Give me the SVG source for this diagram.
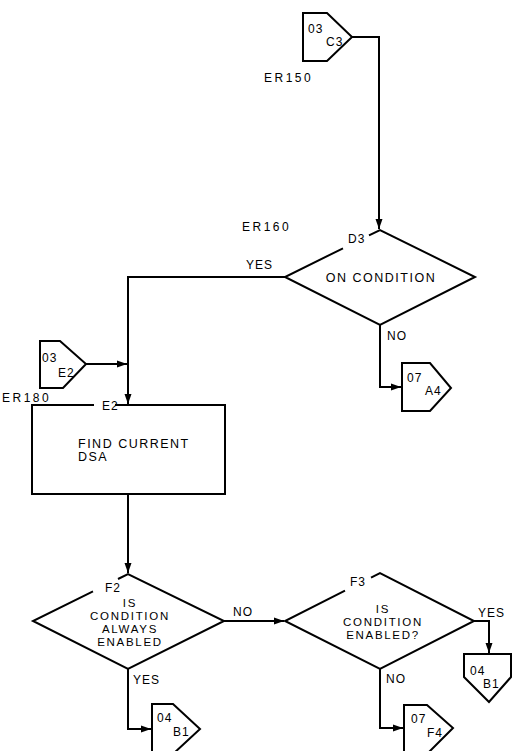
<svg xmlns="http://www.w3.org/2000/svg" width="512" height="751" viewBox="0 0 512 751">
<style>
text{font-family:"Liberation Sans",Arial,sans-serif;fill:#000}
.big{font-size:12.5px;letter-spacing:1.5px}
.dt{font-size:11.5px;letter-spacing:1.7px}
.sm{font-size:12px;letter-spacing:1px}
.er{font-size:12px;letter-spacing:2.5px}
.shape{fill:none;stroke:#000;stroke-width:2;stroke-linejoin:miter}
.conn{fill:none;stroke:#000;stroke-width:2}
</style>
<defs>
<marker id="ah" markerUnits="userSpaceOnUse" markerWidth="10" markerHeight="8" refX="10" refY="4" orient="auto">
<path d="M0,0.5 L10,4 L0,7.5 z" fill="#000"/>
</marker>
</defs>
<rect width="512" height="751" fill="#fff"/>
<g id="connectors">
<path class="conn" d="M352,37 H379 V229" marker-end="url(#ah)"/>
<path class="conn" d="M285,277 H128 V404" marker-end="url(#ah)"/>
<path class="conn" d="M86,364 H127" marker-end="url(#ah)"/>
<path class="conn" d="M380,325 V387 H401" marker-end="url(#ah)"/>
<path class="conn" d="M128,494 V573" marker-end="url(#ah)"/>
<path class="conn" d="M224,621 H284" marker-end="url(#ah)"/>
<path class="conn" d="M128,669 V729 H151" marker-end="url(#ah)"/>
<path class="conn" d="M474,621 H489 V653" marker-end="url(#ah)"/>
<path class="conn" d="M380,669 V728 H403" marker-end="url(#ah)"/>
<text class="sm" x="246" y="269">YES</text>
<text class="sm" x="387" y="340">NO</text>
<text class="sm" x="233" y="616">NO</text>
<text class="sm" x="133" y="684">YES</text>
<text class="sm" x="478" y="617">YES</text>
<text class="sm" x="386" y="683">NO</text>
</g>
<g id="offpage_03C3">
<polygon class="shape" points="303,13 327,13 352,37 327,61 303,61"/>
<text class="sm" x="308" y="33">03</text>
<text class="sm" x="326" y="46">C3</text>
</g>
<text class="er" x="264" y="82">ER150</text>
<g id="D3">
<path class="shape" d="M369,235.4 L380,230 L475,277 L380,325 L285,277 L343,248.3"/>
<text class="sm" x="348" y="243">D3</text>
<text class="big" x="381" y="282" text-anchor="middle">ON CONDITION</text>
<text class="er" x="242" y="231">ER160</text>
</g>
<g id="offpage_07A4">
<polygon class="shape" points="402,363 430,363 451,388 430,411 402,411"/>
<text class="sm" x="407" y="382">07</text>
<text class="sm" x="425" y="395">A4</text>
</g>
<g id="offpage_03E2">
<polygon class="shape" points="40,341 60,341 86,364 63,388 40,388"/>
<text class="sm" x="42" y="362">03</text>
<text class="sm" x="58" y="377">E2</text>
</g>
<g id="E2">
<path class="shape" d="M115,405 H225 V494 H32 V405 H94"/>
<text class="sm" x="102" y="410">E2</text>
<text class="er" x="2" y="402">ER180</text>
<text class="big" x="78" y="448">FIND CURRENT</text>
<text class="big" x="78" y="461">DSA</text>
</g>
<g id="F2">
<path class="shape" d="M118,579 L128,574 L224,621 L128,669 L33,621 L93,591.3"/>
<text class="sm" x="105" y="592">F2</text>
<text class="dt" x="130" y="607" text-anchor="middle">IS</text>
<text class="dt" x="130" y="620" text-anchor="middle">CONDITION</text>
<text class="dt" x="130" y="633" text-anchor="middle">ALWAYS</text>
<text class="dt" x="130" y="646" text-anchor="middle">ENABLED</text>
</g>
<g id="F3">
<path class="shape" d="M371,577.6 L380,573 L474,621 L380,669 L285,621 L345,590.7"/>
<text class="sm" x="350" y="586">F3</text>
<text class="dt" x="383" y="613" text-anchor="middle">IS</text>
<text class="dt" x="383" y="626" text-anchor="middle">CONDITION</text>
<text class="dt" x="383" y="639" text-anchor="middle">ENABLED?</text>
</g>
<g id="offpage_04B1_a">
<polygon class="shape" points="152,704 173,704 200,729 173,754 152,754"/>
<text class="sm" x="157" y="722">04</text>
<text class="sm" x="173" y="736">B1</text>
</g>
<g id="offpage_04B1_b">
<polygon class="shape" points="464,654 511,654 511,677 489,702 464,677"/>
<text class="sm" x="470" y="675">04</text>
<text class="sm" x="483" y="688">B1</text>
</g>
<g id="offpage_07F4">
<polygon class="shape" points="404,705 427,705 453,728 427,754 404,754"/>
<text class="sm" x="411" y="723">07</text>
<text class="sm" x="427" y="737">F4</text>
</g>
</svg>
